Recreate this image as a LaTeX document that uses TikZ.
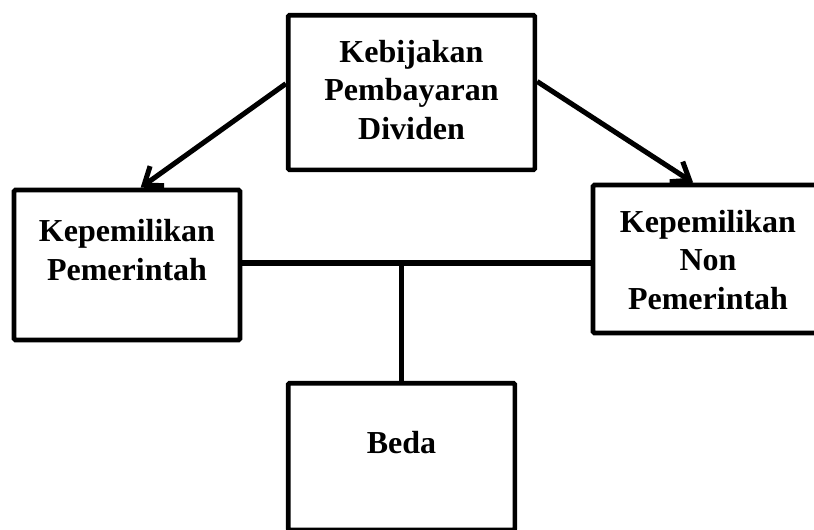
\documentclass[tikz,border=0pt]{standalone}
\usepackage{fontspec}
\setmainfont{Liberation Serif}
\usetikzlibrary{arrows.meta}

\tikzset{
  box/.style={draw, line width=3.5pt, rounded corners=1pt, inner sep=0pt},
  txt/.style={align=center, font=\bfseries\fontsize{24}{29}\selectfont},
  link/.style={draw, line width=3.8pt}
}

\begin{document}
\begin{tikzpicture}[x=0.75pt,y=-0.75pt]
  \useasboundingbox (0,0) rectangle (814,529);

  % Define box centres
  \coordinate (C1) at (411.5,92.5);
  \coordinate (C2) at (127,265);
  \coordinate (C3) at (708,259);
  \coordinate (C4) at (401.5,456.5);

  % Draw boxes
  \node[box, minimum width=185pt, minimum height=116pt] (kebijakan) at (C1) {};
  \node[box, minimum width=169.5pt, minimum height=112.5pt] (pemerintah) at (C2) {};
  \node[box, minimum width=172.5pt, minimum height=111pt] (nonpemerintah) at (C3) {};
  \node[box, minimum width=170pt, minimum height=110pt] (beda) at (C4) {};

  % Add text
  \node[txt] (tkebijakan) at (411.5,90) {Kebijakan\\Pembayaran\\Dividen};
  \node[txt] (tpemerintah) at (127,250) {Kepemilikan\\Pemerintah};
  \node[txt] (tnonpemerintah) at (708,260) {Kepemilikan\\Non\\Pemerintah};
  \node[txt] (tbeda) at (401.5,443) {Beda};

  % Draw connectors
  \draw[link, -{Straight Barb[length=12pt,width=18pt]}] (kebijakan.176) -- (pemerintah.80);
  \draw[link, -{Straight Barb[length=12pt,width=18pt]}] (kebijakan.5) -- (nonpemerintah.101);
  \coordinate (M) at (beda.north |- 0,263);
  \draw[link] (pemerintah.east |- M) -- (nonpemerintah.west |- M);
  \draw[link] (M) -- (beda.north);
\end{tikzpicture}
\end{document}
